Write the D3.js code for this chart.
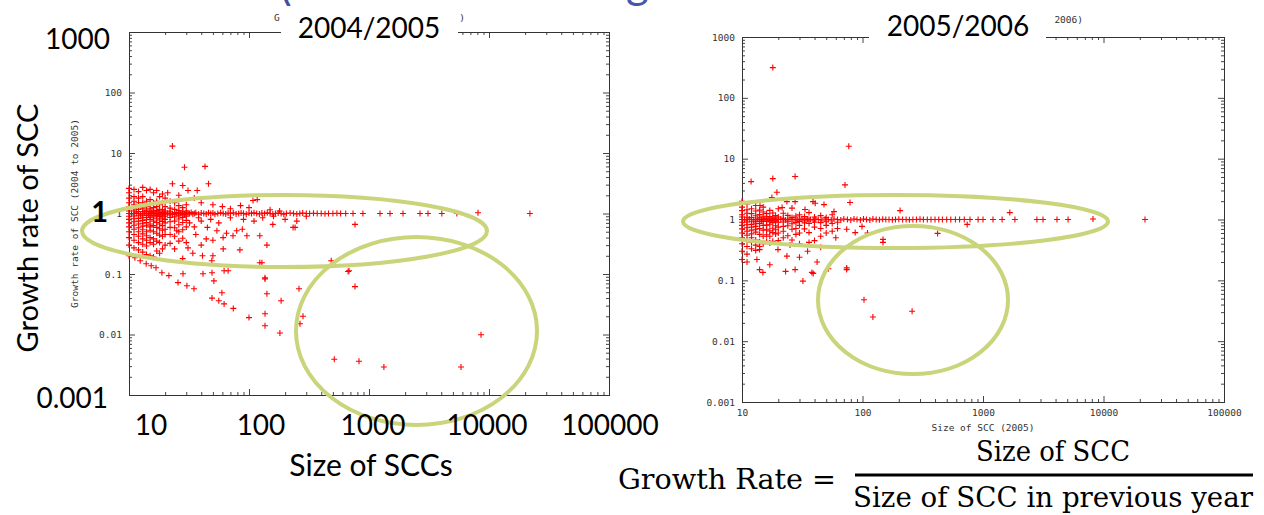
<!DOCTYPE html>
<html><head><meta charset="utf-8">
<script src="https://cdn.jsdelivr.net/npm/d3@7"></script>
<style>html,body{margin:0;padding:0;background:#fff;overflow:hidden}</style>
</head><body><svg id="c" width="1264" height="515"></svg>
<script>
// ---------- axis ticks ----------
const sizeTicks = [10, 100, 1000, 10000, 100000];
const sizeTickLabels = ["10", "100", "1000", "10000", "100000"];
const rateTicks = [0.001, 0.01, 0.1, 1, 10, 100, 1000];
const rateTickLabels = ["0.001", "0.01", "0.1", "1", "10", "100", "1000"];

// ---------- 2004/2005 data: [size of SCC, growth rate] ----------
const gridSizes0405 = [10,11,12,13,14,15,16,17,18,19,20,22,24,26,28,30];
const gridRates0405 = [
  [2.6,2.2,1.8,1.5,1.3,1.2,1.1,1.0,0.9,0.8,0.7,0.6,0.5,0.4,0.3,0.2],
  [2.5,1.9,1.6,1.4,1.2,1.1,1.0,0.91,0.82,0.73,0.64,0.55,0.45,0.36,0.27],
  [2.3,1.8,1.5,1.3,1.17,1.08,1.0,0.92,0.83,0.75,0.67,0.58,0.5,0.42,0.33,0.25],
  [2.7,1.9,1.5,1.23,1.08,1.0,0.92,0.85,0.77,0.69,0.62,0.54,0.46,0.38,0.31,0.23],
  [2.4,1.6,1.3,1.14,1.07,1.0,0.93,0.86,0.79,0.71,0.64,0.5,0.43,0.36,0.29,0.21],
  [2.5,1.7,1.4,1.2,1.07,1.0,0.93,0.87,0.8,0.67,0.6,0.53,0.4,0.33,0.2],
  [2.2,1.5,1.25,1.13,1.06,1.0,0.94,0.88,0.75,0.63,0.5,0.38,0.31,0.19],
  [2.4,1.6,1.3,1.12,1.06,1.0,0.94,0.82,0.71,0.59,0.47,0.35,0.24],
  [1.9,1.4,1.17,1.06,1.0,0.94,0.89,0.78,0.67,0.56,0.44,0.33,0.22],
  [2.1,1.5,1.16,1.05,1.0,0.95,0.84,0.74,0.63,0.53,0.42,0.26],
  [1.8,1.3,1.1,1.05,1.0,0.95,0.9,0.8,0.7,0.55,0.45,0.3],
  [1.6,1.23,1.09,1.0,0.95,0.86,0.73,0.59,0.45,0.32],
  [1.5,1.17,1.04,1.0,0.96,0.88,0.75,0.58,0.42],
  [1.35,1.12,1.04,1.0,0.92,0.81,0.65,0.5,0.35],
  [1.25,1.07,1.0,0.96,0.86,0.71,0.54,0.39],
  [1.4,1.1,1.03,1.0,0.97,0.9,0.77,0.6,0.33]
];
const band0405 = [[10.5,1],[11.5,1.03],[12.5,0.97],[13.5,1.02],[14.5,0.98],[15.5,1.04],[16.5,1],[17.5,0.97],[18.5,1.03],[19.5,1],[21,1.02],[23,0.98],[25,1.03],[27,1],[29,0.97],[31,1.02],[32,1],[33,1.04],[34,0.98],[35,1],[36,1.03],[38,0.97],[40,1.02],[42,1],[44,0.98],[46,1.03],[48,1],[50,1.02],[52,0.97],[55,1],[58,1.03],[61,1],[64,0.98],[67,1.02],[70,1],[74,1.03],[78,0.98],[82,1],[86,1.02],[90,1],[95,0.97],[100,1.02],[105,1],[110,1.03],[116,1],[122,0.98],[128,1.02],[135,1],[142,1.03],[150,1],[158,0.98],[166,1],[175,1.02],[185,1],[195,0.97],[205,1],[220,1.02],[235,1],[250,0.98],[265,1],[280,1.02],[300,1],[320,1],[345,1.01],[370,1],[400,1],[430,0.99],[460,1],[500,1],[540,1.01],[580,1],[640,1],[736,1],[890,1],[1235,1],[1496,1],[1920,1],[2660,1],[3100,1],[4040,1],[5400,1],[8100,1.03],[21900,1]];
const upper0405 = [[23,13],[29,5.8],[43,6.0],[23,3.1],[28,2.9],[31,2.4],[37,2.4],[46,3.1],[117,1.7],[108,1.64],[60,1.3],[70,1.2],[85,1.35],[100,1.25],[150,1.15],[180,1.1],[40,1.5],[50,1.4],[35,1.8],[26,2.0],[21,2.2]];
const mid0405 = [[764,0.66],[158,0.66],[242,0.59],[233,0.59],[123,0.43],[96,0.43],[73.6,0.43],[60.8,0.40],[50,0.36],[40,0.30],[31,0.27],[24,0.26],[141,0.30],[84,0.25],[61,0.26],[50,0.2],[41,0.2],[34,0.22],[28,0.18],[123,0.154],[49,0.166],[670,0.11],[136,0.087],[45,0.59],[54,0.52],[65,0.47],[79,0.52],[88,0.55],[25,0.52],[35,0.6],[40,0.75],[48,0.8],[56,0.7],[70,0.85],[90,0.8],[110,0.75],[130,0.85],[160,0.9],[200,0.8],[250,0.75],[300,0.9],[36,0.45],[44,0.38],[32,0.7],[38,0.85]];
const lower0405 = [[11.2,0.186],[12.4,0.166],[13.9,0.148],[15.3,0.137],[16.8,0.127],[18.8,0.105],[21.5,0.094],[25.6,0.072],[30.4,0.064],[34.8,0.057],[28.2,0.101],[41.4,0.101],[49.2,0.105],[62,0.113],[67,0.113],[51,0.077],[59.5,0.049],[49.2,0.040],[56,0.036],[62,0.032],[74,0.027],[100,0.019],[136,0.083],[141,0.047],[136,0.022],[136,0.014],[185,0.036],[181,0.0106],[261,0.057],[282,0.020],[266,0.015],[128,0.154],[484,0.166],[681,0.113],[765,0.062]];
const circle0405 = [[514,0.0039],[825,0.0036],[1330,0.0029],[5840,0.0029],[8580,0.0099]];

// ---------- 2005/2006 data ----------
const gridSizes0506 = [10,11,12,13,14,15,16,17,18,19,20,22,24,26,28,30,33,36,40,45,50,56,62];
const gridRates0506 = [
  [2.0,1.6,1.4,1.2,1.1,1.0,0.9,0.8,0.7,0.6,0.5,0.4,0.3,0.22],
  [1.8,1.45,1.27,1.09,1.0,0.91,0.82,0.73,0.64,0.55,0.45,0.36,0.27],
  [1.5,1.25,1.08,1.0,0.92,0.83,0.75,0.67,0.58,0.5,0.42,0.33],
  [1.7,1.38,1.15,1.0,0.92,0.85,0.77,0.69,0.62,0.46,0.38,0.31],
  [1.43,1.21,1.07,1.0,0.93,0.86,0.71,0.57,0.43,0.36],
  [1.6,1.33,1.13,1.0,0.93,0.8,0.67,0.53,0.4],
  [1.25,1.06,1.0,0.94,0.81,0.69,0.56,0.44],
  [1.41,1.12,1.0,0.94,0.82,0.65,0.53,0.41],
  [1.28,1.06,1.0,0.89,0.72,0.61,0.44],
  [1.16,1.0,0.95,0.79,0.68,0.58],
  [1.5,1.1,1.0,0.9,0.75,0.6,0.45],
  [1.27,1.05,1.0,0.91,0.77,0.64,0.5],
  [1.17,1.0,0.92,0.79,0.54],
  [1.54,1.08,1.0,0.85,0.69,0.46],
  [1.14,1.0,0.89,0.71,0.57],
  [1.2,1.0,0.93,0.8,0.6,0.4],
  [1.12,1.0,0.88,0.7],
  [1.3,1.0,0.86,0.61,0.42],
  [1.1,1.0,0.9,0.75,0.45],
  [1.16,0.89,0.71,0.53],
  [1.08,0.92,0.8,0.6],
  [1.2,0.86,0.64],
  [0.9,0.71]
];
const band0506 = [[10.5,1],[11.5,1.02],[12.5,0.98],[13.5,1.02],[14.5,0.98],[15.5,1.03],[16.5,1],[17.5,0.97],[18.5,1.02],[19.5,1],[21,1.02],[23,0.98],[25,1.02],[27,1],[29,0.98],[31,1.02],[32,1],[34,0.98],[35,1.02],[37,1],[39,0.98],[41,1.02],[43,1],[46,0.98],[49,1.02],[52,1],[55,0.98],[58,1.02],[62,1],[66,0.98],[70,1.02],[75,1],[80,0.98],[85,1.02],[90,1],[96,0.98],[102,1.02],[108,1],[115,0.98],[122,1.02],[130,1],[138,0.99],[147,1.01],[156,1],[166,1],[177,0.99],[188,1],[200,1.01],[215,1],[230,1],[245,0.99],[262,1],[280,1],[300,1.01],[320,1],[345,1],[370,1],[400,1],[430,1],[460,1],[500,1],[540,1],[590,1],[640,1],[700,1],[780,1],[910,1],[1000,1],[1210,1],[1440,1],[1840,1],[2800,1],[3150,1],[4110,1],[5080,1],[8180,1.02],[22100,1]];
const upper0506 = [[18,314],[77,16],[18,4.7],[27.6,5.1],[11.9,4.2],[71.6,3.7],[19.5,2.8],[17.7,2.3],[14.1,1.7],[23.6,1.97],[27.6,1.97],[38.8,1.97],[40.5,1.85],[47.9,1.76],[58,1.35],[78.7,1.9],[205,1.4],[1670,1.3],[21.5,1.57],[33.3,1.46]];
const lower0506 = [[740,0.83],[420,0.59],[148,0.47],[148,0.42],[99,0.77],[74,0.69],[87,0.61],[74,0.16],[42,0.2],[30,0.24],[23.6,0.25],[27.6,0.15],[38,0.135],[23,0.14],[17,0.18],[14,0.15],[13.3,0.22],[11,0.2],[19.9,0.32],[14,0.32],[14.9,0.135],[32,0.097],[39,0.13],[52,0.155],[74,0.15],[110,0.6],[60,0.5],[45,0.35],[35,0.3],[25,0.38]];
const circle0506 = [[103,0.048],[122,0.025],[258,0.031]];

// ---------- drawing ----------
const svg = d3.select("#c");
svg.append("rect").attr("width",1264).attr("height",515).attr("fill","#fff");

function minorTicks(lo, hi) {
  const out = [];
  for (let p = Math.round(Math.log10(lo)); p < Math.round(Math.log10(hi)); p++)
    for (let k = 2; k <= 9; k++) out.push(k * Math.pow(10, p));
  return out;
}

const tiny = (g, t, x, y, anchor) => g.append("text").attr("x", x).attr("y", y).attr("text-anchor", anchor)
  .attr("font-family", "DejaVu Sans Mono").attr("font-size", "9.5px").attr("fill", "#333").text(t);

function panel(cfg) {
  const x = d3.scaleLog().domain([sizeTicks[0], sizeTicks[sizeTicks.length-1]]).range([cfg.x0, cfg.x1]);
  const y = d3.scaleLog().domain([rateTicks[0], rateTicks[rateTicks.length-1]]).range([cfg.y1, cfg.y0]);
  const g = svg.append("g");
  const xm = minorTicks(10, 100000), ym = minorTicks(0.001, 1000);
  const none = () => "";
  const add = (t, axis) => g.append("g").attr("transform", t).call(axis);
  const axes = [
    add(`translate(0,${cfg.y1})`, d3.axisBottom(x).tickValues(xm).tickSize(-3).tickFormat(none)),
    add(`translate(0,${cfg.y1})`, d3.axisBottom(x).tickValues(sizeTicks).tickSize(-6).tickPadding(7)
        .tickFormat((d,i) => cfg.xLabels ? sizeTickLabels[i] : "")),
    add(`translate(0,${cfg.y0})`, d3.axisTop(x).tickValues(xm).tickSize(-3).tickFormat(none)),
    add(`translate(0,${cfg.y0})`, d3.axisTop(x).tickValues(sizeTicks).tickSize(-6).tickFormat(none)),
    add(`translate(${cfg.x0},0)`, d3.axisLeft(y).tickValues(ym).tickSize(-3).tickFormat(none)),
    add(`translate(${cfg.x0},0)`, d3.axisLeft(y).tickValues(rateTicks).tickSize(-6).tickPadding(7)
        .tickFormat((d,i) => cfg.yLabels.includes(rateTickLabels[i]) ? rateTickLabels[i] : "")),
    add(`translate(${cfg.x1},0)`, d3.axisRight(y).tickValues(ym).tickSize(-3).tickFormat(none)),
    add(`translate(${cfg.x1},0)`, d3.axisRight(y).tickValues(rateTicks).tickSize(-6).tickFormat(none))
  ];
  axes.forEach(a => {
    a.select(".domain").remove();
    a.selectAll(".tick line").attr("stroke", "#444");
    a.selectAll("text").attr("font-family", "DejaVu Sans Mono").attr("font-size", "9.5px").attr("fill", "#333");
  });
  g.append("rect").attr("x", cfg.x0 + 0.5).attr("y", cfg.y0 + 0.5)
    .attr("width", cfg.x1 - cfg.x0).attr("height", cfg.y1 - cfg.y0)
    .attr("fill", "none").attr("stroke", "#333").attr("stroke-width", 1);

  const pts = cfg.gridSizes.flatMap((s, i) => cfg.gridRates[i].map(r => [s, r])).concat(...cfg.sets);
  g.append("g").selectAll("path").data(pts).join("path")
    .attr("transform", d => `translate(${x(d[0]).toFixed(1)},${y(d[1]).toFixed(1)})`)
    .attr("d", "M-3,0H3M0,-3V3").attr("stroke", "#ff0000").attr("stroke-width", 1.1).attr("fill", "none");

  // visible fragments of the gnuplot titles (middle hidden behind the slide's labels)
  cfg.titleBits.forEach(b => tiny(g, b[0], b[1], b[2], b[3]));
  if (cfg.xTitle) tiny(g, cfg.xTitle, (cfg.x0 + cfg.x1) / 2, cfg.y1 + 29, "middle");
  if (cfg.yTitle) tiny(g, cfg.yTitle, 0, 0, "middle")
    .attr("transform", `translate(${cfg.yTitleX},${(cfg.y0 + cfg.y1) / 2}) rotate(-90)`);
  return {x, y};
}

panel({x0:129, x1:609, y0:32, y1:395, xLabels:false, yLabels:["100","10","1","0.1","0.01"],
  gridSizes:gridSizes0405, gridRates:gridRates0405, sets:[band0405, upper0405, mid0405, lower0405, circle0405],
  titleBits:[["G", 274, 21, "start"], [")", 465, 21, "end"]],
  yTitle:"Growth rate of SCC (2004 to 2005)", yTitleX:78});
panel({x0:742, x1:1224, y0:37, y1:402, xLabels:true, yLabels:rateTickLabels,
  gridSizes:gridSizes0506, gridRates:gridRates0506, sets:[band0506, upper0506, lower0506, circle0506],
  titleBits:[["2006)", 1083, 23, "end"]],
  xTitle:"Size of SCC (2005)"});

// slide title fragments cut at the top edge
const big = (t, x, y, anchor, size, extra) => {
  const e = svg.append("text").attr("x", x).attr("y", y).attr("text-anchor", anchor)
    .attr("font-family", "Lato, 'Open Sans', sans-serif").attr("font-size", size + "px").attr("fill", "#000").text(t);
  if (extra) extra(e);
  return e;
};
big("(", 280, 1, "start", 44, e => e.attr("fill", "#3f51a3"));
big("g", 626, -2, "start", 44, e => e.attr("fill", "#4656a8"));

// white label boxes
svg.append("rect").attr("x", 281).attr("y", 6).attr("width", 177).attr("height", 38).attr("fill", "#fff");
svg.append("rect").attr("x", 869).attr("y", 4).attr("width", 177).attr("height", 42).attr("fill", "#fff");
big("2004/2005", 369, 38, "middle", 28);
big("2005/2006", 958, 36, "middle", 28);

// highlight ellipses
const ell = [[284.5, 231, 202.5, 36], [416.5, 331, 120.5, 94], [895.5, 221.5, 212.5, 26.5], [913, 300, 95, 74]];
svg.append("g").selectAll("ellipse").data(ell).join("ellipse")
  .attr("cx", d => d[0]).attr("cy", d => d[1]).attr("rx", d => d[2]).attr("ry", d => d[3])
  .attr("fill", "none").attr("stroke", "#cad47a").attr("stroke-width", 4);

// big slide axis labels
big("1000", 110, 49, "end", 28);
big("1", 108, 222, "end", 29, e => e.attr("font-weight", "bold"));
big("0.001", 108, 408, "end", 28);
big("Growth rate of SCC", 0, 0, "middle", 29, e => e.attr("transform", "translate(38,228) rotate(-90)"));
const bigX = [151, 261, 373, 487, 610];
sizeTickLabels.forEach((t, i) => big(t, bigX[i], 435, "middle", 28));
big("Size of SCCs", 371, 476, "middle", 30);

// formula
const serif = (t, x, y, anchor, len) => svg.append("text").attr("x", x).attr("y", y).attr("text-anchor", anchor)
  .attr("font-family", "'DejaVu Serif', serif").attr("font-size", "27px").attr("fill", "#000")
  .attr("textLength", len).attr("lengthAdjust", "spacingAndGlyphs").text(t);
serif("Growth Rate =", 618, 489, "start", 218);
serif("Size of SCC", 1053, 461, "middle", 154);
serif("Size of SCC in previous year", 1053, 507, "middle", 400);
svg.append("line").attr("x1", 855).attr("x2", 1253).attr("y1", 475).attr("y2", 475)
  .attr("stroke", "#000").attr("stroke-width", 3);
</script></body></html>
